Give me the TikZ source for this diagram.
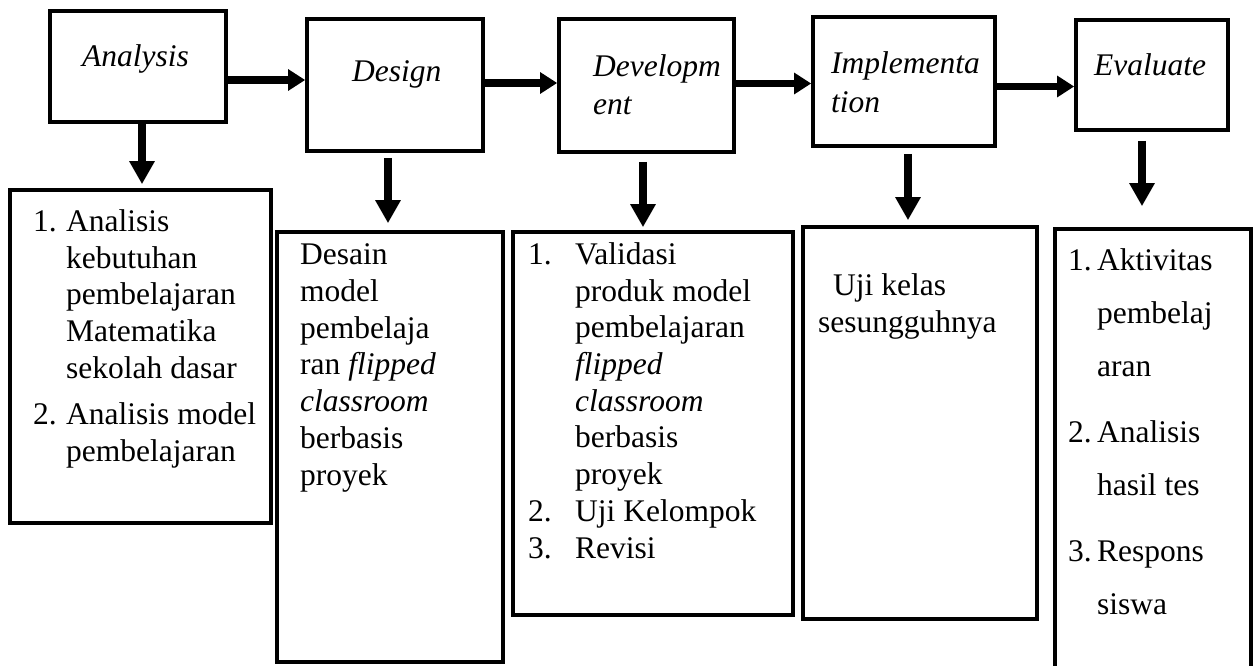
\documentclass[tikz,border=0pt]{standalone}
\usepackage{fontspec}
\setmainfont{Liberation Serif}
\usetikzlibrary{arrows.meta}
\tikzset{stage/.style = {draw, line width = 3.6pt, inner sep = 0}}
\tikzset{txt/.style = {inner sep = 0, align = left, anchor = base west}}
\tikzset{harrow/.style = {line width = 7.3pt, -{Triangle[length = 17pt, width = 20.5pt]}}}
\tikzset{varrow/.style = {line width = 8.5pt, -{Triangle[length = 23pt, width = 24pt]}}}
\newcommand{\lnum}[2][33pt]{\makebox[#1][l]{#2}}
\newcommand{\lind}[1][33pt]{\hspace*{#1}}

\begin{document}
\begin{tikzpicture}[x = 1pt, y = -1pt, font = \fontsize{31.5}{36.7}\selectfont]
      \useasboundingbox (0, 0) rectangle (1255, 666);
      \clip (0, 0) rectangle (1255, 666);

      % stages (text nodes sit on the baseline of their last line)
      \node [stage, minimum width = 176pt, minimum height = 111pt] (analysis) at (138, 66.5) {};
      \node [txt] (analysistxt) at (82, 67) {\textit{Analysis}};

      \node [stage, minimum width = 176pt, minimum height = 132pt] (design) at (395, 85) {};
      \node [txt] (designtxt) at (352, 82) {\textit{Design}};

      \node [stage, minimum width = 175pt, minimum height = 133pt] (develop) at (646.5, 85.5) {};
      \node [txt, font = \fontsize{31.5}{38}\selectfont\itshape] (developtxt) at (593, 114) {Developm\\ent};

      \node [stage, minimum width = 182pt, minimum height = 129pt] (implement) at (904, 81.5) {};
      \node [txt, font = \fontsize{31.5}{39}\selectfont\itshape] (implementtxt) at (831, 113) {Implementa\\tion};

      \node [stage, minimum width = 152pt, minimum height = 110pt] (evaluate) at (1152, 75) {};
      \node [txt] (evaluatetxt) at (1094, 76) {\textit{Evaluate}};

      % results
      \node [stage, minimum width = 261pt, minimum height = 333pt] (anbox) at (140.5, 356.5) {};
      \node [txt] (anboxtxt) at (33, 461) {%
        \lnum{1.}Analisis\\
        \lind kebutuhan\\
        \lind pembelajaran\\
        \lind Matematika\\
        \lind sekolah dasar\\[9.5pt]
        \lnum{2.}Analisis model\\
        \lind pembelajaran};

      \node [stage, minimum width = 226pt, minimum height = 430pt] (desbox) at (390, 447) {};
      \node [txt] (desboxtxt) at (300, 485) {%
        Desain\\
        model\\
        pembelaja\\
        ran \textit{flipped}\\
        \textit{classroom}\\
        berbasis\\
        proyek};

      \node [stage, minimum width = 280pt, minimum height = 383pt] (devbox) at (653, 423.5) {};
      \node [txt] (devboxtxt) at (528, 558) {%
        \lnum[47pt]{1.}Validasi\\
        \lind[47pt]produk model\\
        \lind[47pt]pembelajaran\\
        \lind[47pt]\textit{flipped}\\
        \lind[47pt]\textit{classroom}\\
        \lind[47pt]berbasis\\
        \lind[47pt]proyek\\
        \lnum[47pt]{2.}Uji Kelompok\\
        \lnum[47pt]{3.}Revisi};

      \node [stage, minimum width = 234pt, minimum height = 392pt] (impbox) at (920, 423) {};
      \node [txt] (impboxtxt) at (818, 332) {%
        \hspace*{15pt}Uji kelas\\
        sesungguhnya};

      \node [stage, minimum width = 196pt, minimum height = 471pt] (evbox) at (1153, 464.5) {};
      \node [txt, font = \fontsize{31.5}{53}\selectfont] (evboxtxt) at (1068, 614) {%
        \lnum[29pt]{1.}Aktivitas\\
        \lind[29pt]pembelaj\\
        \lind[29pt]aran\\[13pt]
        \lnum[29pt]{2.}Analisis\\
        \lind[29pt]hasil tes\\[13pt]
        \lnum[29pt]{3.}Respons\\
        \lind[29pt]siswa};

      % arrows
      \draw [harrow] ([yshift = -13.5pt]analysis.east) -- ([yshift = -13.5pt]analysis.east -| design.west);
      \draw [harrow] ([yshift = 2pt]design.east) -- ([yshift = 2pt]design.east -| develop.west);
      \draw [harrow] ([yshift = 2pt]develop.east) -- ([yshift = 2pt]develop.east -| implement.west);
      \draw [harrow] ([yshift = -5pt]implement.east) -- ([yshift = -5pt]implement.east -| evaluate.west);

      \draw [varrow, shorten >= 4pt] ([xshift = 4pt]analysis.south) -- ([xshift = 4pt]analysis.south |- anbox.north);
      \draw [varrow, shorten <= 5pt, shorten >= 7pt] ([xshift = -7pt]design.south) -- ([xshift = -7pt]design.south |- desbox.north);
      \draw [varrow, shorten <= 8pt, shorten >= 3pt] ([xshift = -3.5pt]develop.south) -- ([xshift = -3.5pt]develop.south |- devbox.north);
      \draw [varrow, shorten <= 6pt, shorten >= 5pt] ([xshift = 4pt]implement.south) -- ([xshift = 4pt]implement.south |- impbox.north);
      \draw [varrow, shorten <= 9pt, shorten >= 21pt] ([xshift = -10pt]evaluate.south) -- ([xshift = -10pt]evaluate.south |- evbox.north);
    \end{tikzpicture}
\end{document}
